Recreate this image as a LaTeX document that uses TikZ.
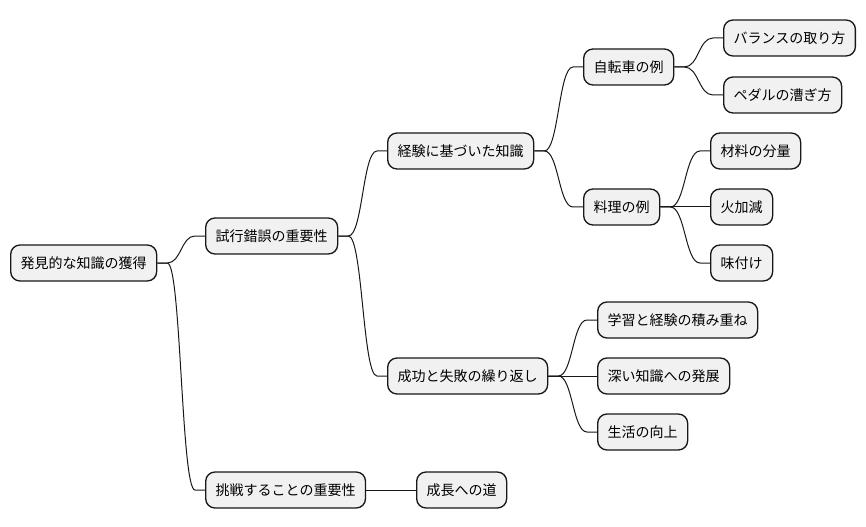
\documentclass[tikz,border=0pt]{standalone}
\usepackage{fontspec}
\setmainfont{Noto Sans CJK JP}
\usetikzlibrary{calc}
\definecolor{boxfill}{HTML}{F1F1F1}
\definecolor{boxline}{HTML}{181818}
\tikzset{
  mmbox/.style={draw=boxline, fill=boxfill, line width=1pt, rounded corners=7pt,
    anchor=west, minimum height=27pt, inner xsep=7.5pt, inner ysep=0pt,
    font=\fontsize{10.5pt}{12pt}\selectfont, text=black},
  mmline/.style={draw=boxline, line width=0.75pt}
}
\newcommand{\mmedge}[2]{%
  \draw[mmline] let \p1=(#1.east), \p2=(#2.west), \n1={(\x2-\x1)/2} in
    (#1.east) -- ++(7.5pt,0) .. controls (\x1+\n1,\y1) and (\x1+\n1,\y2) .. (\x2-7.5pt,\y2) -- (#2.west);}
\begin{document}
\begin{tikzpicture}[x=0.75pt,y=-0.75pt]
\useasboundingbox (0,0) rectangle (866,527);
\node[mmbox] (root) at (10,263) {発見的な知識の獲得};
\node[mmbox] (a) at (205,236) {試行錯誤の重要性};
\node[mmbox] (b) at (205,490) {挑戦することの重要性};
\node[mmbox] (b1) at (416,490) {成長への道};
\node[mmbox] (a1) at (387,151) {経験に基づいた知識};
\node[mmbox] (a2) at (387,376) {成功と失敗の繰り返し};
\node[mmbox] (a1a) at (583,67) {自転車の例};
\node[mmbox] (a1b) at (583,207) {料理の例};
\node[mmbox] (a1a1) at (723,38) {バランスの取り方};
\node[mmbox] (a1a2) at (723,95) {ペダルの漕ぎ方};
\node[mmbox] (a1b1) at (710,151) {材料の分量};
\node[mmbox] (a1b2) at (710,207) {火加減};
\node[mmbox] (a1b3) at (710,263) {味付け};
\node[mmbox] (a2a) at (597,320) {学習と経験の積み重ね};
\node[mmbox] (a2b) at (597,376) {深い知識への発展};
\node[mmbox] (a2c) at (597,432) {生活の向上};
\mmedge{root}{a}
\mmedge{root}{b}
\mmedge{a}{a1}
\mmedge{a}{a2}
\mmedge{a1}{a1a}
\mmedge{a1}{a1b}
\mmedge{a1a}{a1a1}
\mmedge{a1a}{a1a2}
\mmedge{a1b}{a1b1}
\draw[mmline] (a1b.east) -- (a1b2.west);
\mmedge{a1b}{a1b3}
\mmedge{a2}{a2a}
\draw[mmline] (a2.east) -- (a2b.west);
\mmedge{a2}{a2c}
\draw[mmline] (b.east) -- (b1.west);
\end{tikzpicture}
\end{document}
